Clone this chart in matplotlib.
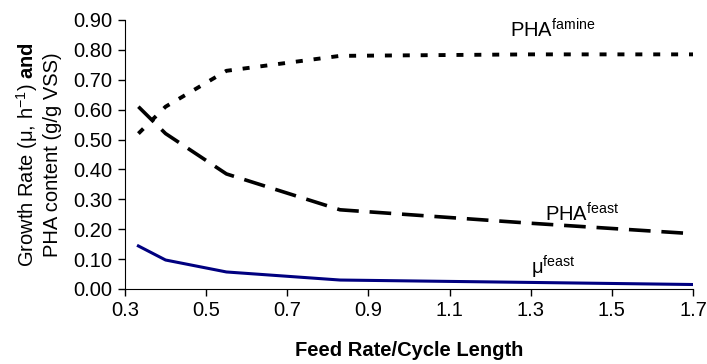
import matplotlib.pyplot as plt

plt.rcParams['font.family'] = ['Liberation Sans', 'DejaVu Sans']
plt.rcParams['mathtext.fontset'] = 'custom'
plt.rcParams['mathtext.rm'] = 'Liberation Sans'
plt.rcParams['mathtext.it'] = 'Liberation Sans'
plt.rcParams['mathtext.bf'] = 'Liberation Sans:bold'

# data
feed_rate = [0.333, 0.4, 0.55, 0.83, 1.3, 1.7]
pha_famine = [0.52, 0.61, 0.73, 0.78, 0.785, 0.785]
pha_feast = [0.61, 0.52, 0.385, 0.265, 0.22, 0.185]
mu_feast = [0.144, 0.097, 0.057, 0.03, 0.022, 0.015]

x_ticks = [0.3, 0.5, 0.7, 0.9, 1.1, 1.3, 1.5, 1.7]
y_ticks = [0.0, 0.1, 0.2, 0.3, 0.4, 0.5, 0.6, 0.7, 0.8, 0.9]

fs = 14.5

fig = plt.figure(figsize=(7.07, 3.64), dpi=100)
ax = fig.add_axes([125/707, 1 - 289/364, 568/707, 269/364])

ax.plot(feed_rate, pha_famine, color='black', lw=2.8, dashes=(1.8, 2.8))
ax.plot(feed_rate, pha_feast, color='black', lw=2.6, dashes=(6, 3))
ax.plot(feed_rate, mu_feast, color='#000080', lw=2.2)

ax.set_xlim(0.3, 1.7)
ax.set_ylim(0, 0.9)
ax.set_xticks(x_ticks)
ax.set_yticks(y_ticks)
ax.set_xticklabels([f'{v:.1f}' for v in x_ticks])
ax.set_yticklabels([f'{v:.2f}' for v in y_ticks])
ax.tick_params(labelsize=fs, direction='out', length=5, width=1, pad=4)
for s in ['top', 'right']:
    ax.spines[s].set_visible(False)

ax.set_xlabel('Feed Rate/Cycle Length', fontsize=fs, fontweight='bold', labelpad=15)
ax.set_ylabel('Growth Rate (μ, h$^{-1}$) $\\bf{and}$\nPHA content (g/g VSS)', fontsize=fs, labelpad=8)

ax.text(1.25, 0.84, 'PHA$^{famine}$', fontsize=fs)
ax.text(1.335, 0.225, 'PHA$^{feast}$', fontsize=fs)
ax.text(1.3, 0.05, 'μ$^{feast}$', fontsize=fs)

fig.savefig('out.png', dpi=100)
